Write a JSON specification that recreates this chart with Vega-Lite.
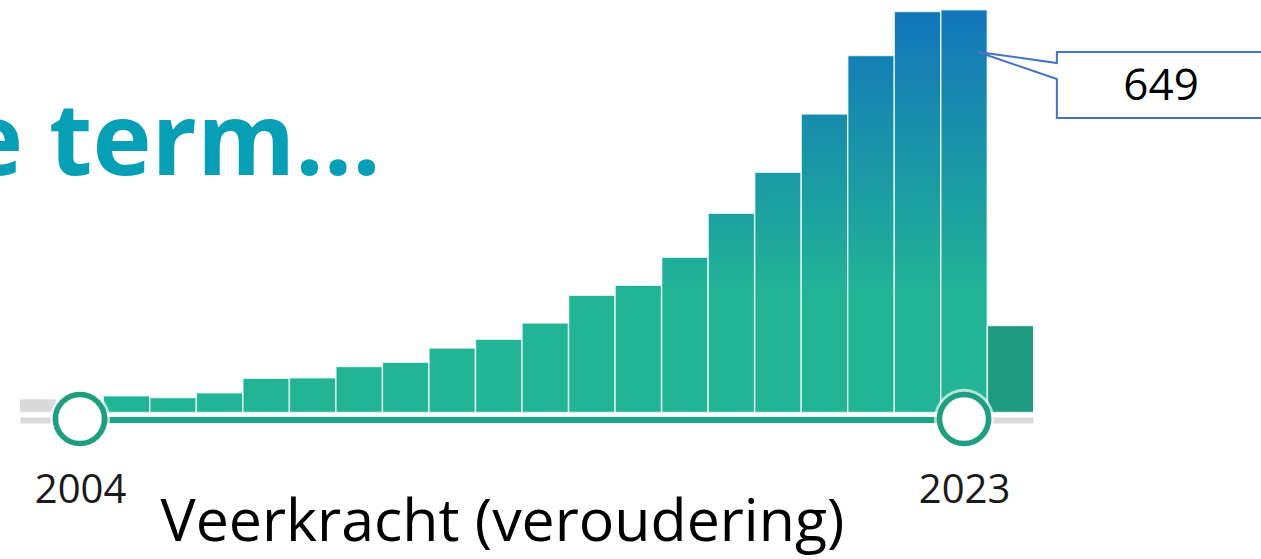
{
  "$schema": "https://vega.github.io/schema/vega-lite/v6.json",
  "autosize": {"type": "none"},
  "width": 1013,
  "height": 412.5,
  "padding": {"left": 20, "top": 0, "right": 228, "bottom": 146.5},
  "background": "white",
  "config": {"view": {"stroke": null}},
  "title": {
    "text": "e term…",
    "anchor": "start",
    "frame": "group",
    "orient": "top",
    "offset": 0,
    "dx": -56,
    "dy": 275,
    "baseline": "alphabetic",
    "font": "Open Sans",
    "fontSize": 100,
    "fontWeight": "bold",
    "color": "#069fb6"
  },
  "data": {
    "values": [
      {"year": 2003, "n": 22},
      {"year": 2004, "n": 12},
      {"year": 2005, "n": 27},
      {"year": 2006, "n": 24},
      {"year": 2007, "n": 32},
      {"year": 2008, "n": 55},
      {"year": 2009, "n": 56},
      {"year": 2010, "n": 74},
      {"year": 2011, "n": 81},
      {"year": 2012, "n": 104},
      {"year": 2013, "n": 118},
      {"year": 2014, "n": 144},
      {"year": 2015, "n": 189},
      {"year": 2016, "n": 205},
      {"year": 2017, "n": 250},
      {"year": 2018, "n": 321},
      {"year": 2019, "n": 387},
      {"year": 2020, "n": 481},
      {"year": 2021, "n": 575},
      {"year": 2022, "n": 646},
      {"year": 2023, "n": 649},
      {"year": 2024, "n": 140}
    ]
  },
  "encoding": {
    "x": {
      "field": "year",
      "type": "quantitative",
      "scale": {"domain": [2002.7105, 2024.4815], "nice": false, "zero": false, "padding": 0},
      "axis": {
        "values": [2004, 2023],
        "format": "d",
        "ticks": false,
        "grid": false,
        "domainColor": "#d9d9d9",
        "domainWidth": 6,
        "offset": 7.5,
        "labelFont": "Open Sans",
        "labelFontSize": 40,
        "labelColor": "#1a1a1a",
        "labelPadding": 50,
        "labelFlush": false,
        "labelOverlap": false,
        "title": "Veerkracht (veroudering)",
        "titleFont": "Open Sans",
        "titleFontSize": 59,
        "titleFontWeight": "normal",
        "titleColor": "#000000",
        "titleAlign": "left",
        "titleAnchor": "start",
        "titleBaseline": "alphabetic",
        "titleX": 140,
        "titleY": 120
      }
    }
  },
  "layer": [
    {
      "mark": {
        "type": "bar",
        "width": 46.53,
        "clip": true,
        "stroke": "white",
        "strokeWidth": 1.5,
        "strokeOpacity": 0.75,
        "fill": {"expr": "datum.year < 2004 ? '#d9d9d9' : datum.year > 2023 ? '#1e9b7f' : {gradient: 'linear', x1: 0, y1: 1, x2: 0, y2: 0, stops: [{offset: 0, color: '#21b495'}, {offset: min(190 / datum.n, 1), color: '#21b495'}, {offset: 1, color: 'rgb(' + round(33 - 15 * clamp((datum.n - 190) / 459, 0, 1)) + ',' + round(180 - 63 * clamp((datum.n - 190) / 459, 0, 1)) + ',' + round(149 + 38 * clamp((datum.n - 190) / 459, 0, 1)) + ')'}]}"}
      },
      "encoding": {
        "y": {
          "field": "n",
          "type": "quantitative",
          "scale": {"domain": [0, 664.6], "nice": false},
          "axis": null
        }
      }
    },
    {
      "transform": [{"filter": "datum.year == 2004"}],
      "mark": {"type": "rule", "strokeWidth": 6, "color": "#1fa386", "yOffset": 7.5},
      "encoding": {
        "x2": {"datum": 2023},
        "y": {"datum": 0, "type": "quantitative"}
      }
    },
    {
      "transform": [{"filter": "datum.year == 2004 || datum.year == 2023"}],
      "mark": {"type": "point", "shape": "circle", "filled": true, "fill": "white", "opacity": 0.65, "size": 3632, "yOffset": 6.5, "strokeWidth": 0},
      "encoding": {"y": {"datum": 0, "type": "quantitative"}}
    },
    {
      "transform": [{"filter": "datum.year == 2004 || datum.year == 2023"}],
      "mark": {"type": "point", "shape": "circle", "filled": false, "fill": "white", "fillOpacity": 1, "stroke": "#1f9f82", "strokeWidth": 5.6, "opacity": 1, "size": 2410, "yOffset": 6.5},
      "encoding": {"y": {"datum": 0, "type": "quantitative"}}
    },
    {
      "transform": [{"filter": "datum.year == 2023"}],
      "mark": {
        "type": "point",
        "shape": "M0.138,0.423 L0.928,0.533 L0.928,0.423 L3.2,0.423 L3.2,1.083 L0.928,1.083 L0.928,0.693 Z",
        "size": 40000,
        "filled": false,
        "fill": "white",
        "fillOpacity": 1,
        "stroke": "#4472c4",
        "strokeWidth": 2,
        "opacity": 1
      },
      "encoding": {"y": {"field": "n", "type": "quantitative"}}
    },
    {
      "transform": [{"filter": "datum.year == 2023"}],
      "mark": {"type": "text", "dx": 197, "dy": 77, "font": "Open Sans", "fontSize": 44, "color": "#000000", "align": "center", "baseline": "middle"},
      "encoding": {
        "y": {"field": "n", "type": "quantitative"},
        "text": {"field": "n", "type": "quantitative", "format": "d"}
      }
    }
  ]
}
